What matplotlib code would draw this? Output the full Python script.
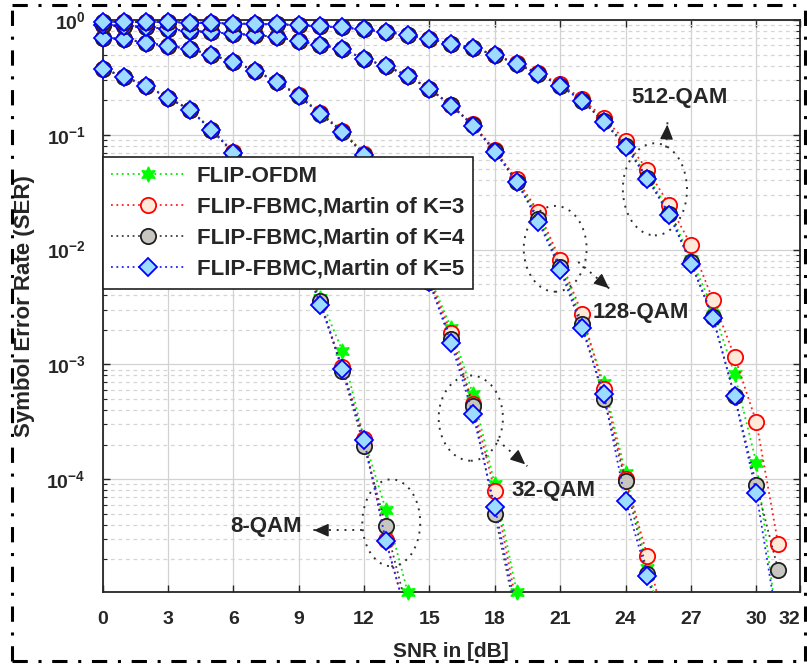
import matplotlib
matplotlib.use('Agg')
import matplotlib.pyplot as plt
import numpy as np
from matplotlib.patches import Ellipse
from matplotlib.lines import Line2D

plt.rcParams['font.family'] = ['Liberation Sans', 'DejaVu Sans']
plt.rcParams['mathtext.fontset'] = 'custom'
plt.rcParams['mathtext.rm'] = 'Liberation Sans:bold'
plt.rcParams['mathtext.it'] = 'Liberation Sans:bold'
plt.rcParams['mathtext.bf'] = 'Liberation Sans:bold'

# ---------------- data ----------------
snr_8 = [0, 1, 2, 3, 4, 5, 6, 7, 8, 9, 10, 11, 12, 13, 14]
ofdm_8 = [0.380, 0.322, 0.270, 0.212, 0.167, 0.112, 0.071, 0.043, 0.023, 0.0105, 3.75e-3, 1.32e-3, 2.25e-4, 5.4e-5, 1.04e-5]
k3_8 = [0.378, 0.320, 0.268, 0.211, 0.166, 0.111, 0.0705, 0.0425, 0.0225, 0.0098, 3.4e-3, 9.5e-4, 2.25e-4, 2.95e-5, 6e-6]
k4_8 = [0.376, 0.320, 0.267, 0.210, 0.166, 0.111, 0.070, 0.042, 0.022, 0.0097, 3.57e-3, 8.8e-4, 1.94e-4, 3.9e-5, 7e-6]
k5_8 = [0.375, 0.319, 0.267, 0.210, 0.165, 0.110, 0.0697, 0.042, 0.022, 0.0095, 3.32e-3, 9.2e-4, 2.18e-4, 2.9e-5, 6e-6]

snr_32 = [0, 1, 2, 3, 4, 5, 6, 7, 8, 9, 10, 11, 12, 13, 14, 15, 16, 17, 18, 19]
ofdm_32 = [0.700, 0.688, 0.635, 0.598, 0.565, 0.500, 0.436, 0.365, 0.293, 0.222, 0.156, 0.109, 0.069, 0.034, 0.0145, 0.0058, 2.06e-3, 5.48e-4, 9.05e-5, 1.04e-5]
k3_32 = [0.699, 0.686, 0.633, 0.596, 0.562, 0.498, 0.433, 0.362, 0.291, 0.220, 0.154, 0.108, 0.068, 0.033, 0.014, 0.0055, 1.86e-3, 4.5e-4, 7.86e-5, 8e-6]
k4_32 = [0.697, 0.684, 0.631, 0.594, 0.560, 0.496, 0.431, 0.360, 0.289, 0.218, 0.152, 0.106, 0.067, 0.032, 0.0135, 0.0052, 1.65e-3, 4.3e-4, 4.96e-5, 6e-6]
k5_32 = [0.697, 0.684, 0.631, 0.594, 0.560, 0.496, 0.431, 0.360, 0.289, 0.218, 0.152, 0.106, 0.067, 0.032, 0.0135, 0.0052, 1.52e-3, 3.67e-4, 5.7e-5, 7e-6]

snr_128 = [0, 1, 2, 3, 4, 5, 6, 7, 8, 9, 10, 11, 12, 13, 14, 15, 16, 17, 18, 19, 20, 21, 22, 23, 24, 25, 26]
ofdm_128 = [0.905, 0.887, 0.869, 0.835, 0.802, 0.786, 0.756, 0.741, 0.711, 0.657, 0.606, 0.560, 0.458, 0.398, 0.326, 0.251, 0.181, 0.122, 0.073, 0.040, 0.0201, 7.55e-3, 2.46e-3, 6.84e-4, 1.13e-4, 1.68e-5, 3e-6]
k3_128 = [0.905, 0.887, 0.869, 0.835, 0.802, 0.786, 0.756, 0.741, 0.711, 0.657, 0.606, 0.560, 0.458, 0.398, 0.326, 0.252, 0.182, 0.123, 0.074, 0.041, 0.0214, 8.18e-3, 2.77e-3, 6.06e-4, 1.0e-4, 2.14e-5, 4e-6]
k4_128 = [0.905, 0.887, 0.869, 0.835, 0.802, 0.786, 0.756, 0.741, 0.711, 0.657, 0.606, 0.560, 0.458, 0.398, 0.326, 0.251, 0.180, 0.121, 0.072, 0.039, 0.0186, 7.11e-3, 2.27e-3, 4.96e-4, 9.61e-5, 1.49e-5, 3e-6]
k5_128 = [0.905, 0.887, 0.869, 0.835, 0.802, 0.786, 0.756, 0.741, 0.711, 0.657, 0.606, 0.560, 0.458, 0.398, 0.326, 0.251, 0.179, 0.120, 0.0711, 0.039, 0.0175, 6.7e-3, 2.06e-3, 5.48e-4, 6.44e-5, 1.43e-5, 3e-6]

snr_512 = [0, 1, 2, 3, 4, 5, 6, 7, 8, 9, 10, 11, 12, 13, 14, 15, 16, 17, 18, 19, 20, 21, 22, 23, 24, 25, 26, 27, 28, 29, 30, 31]
ofdm_512 = [0.970, 0.965, 0.961, 0.958, 0.951, 0.942, 0.932, 0.923, 0.914, 0.905, 0.878, 0.861, 0.827, 0.786, 0.741, 0.684, 0.618, 0.571, 0.496, 0.414, 0.341, 0.270, 0.201, 0.133, 0.082, 0.044, 0.0215, 8.35e-3, 3.07e-3, 8.18e-4, 1.38e-4, 4.6e-6]
k3_512 = [0.970, 0.965, 0.961, 0.958, 0.951, 0.942, 0.932, 0.923, 0.914, 0.905, 0.878, 0.861, 0.827, 0.786, 0.741, 0.684, 0.620, 0.574, 0.500, 0.420, 0.345, 0.275, 0.206, 0.140, 0.0887, 0.0496, 0.0246, 0.0110, 3.67e-3, 1.17e-3, 3.13e-4, 2.72e-5]
k4_512 = [0.970, 0.965, 0.961, 0.958, 0.951, 0.942, 0.932, 0.923, 0.914, 0.905, 0.878, 0.861, 0.827, 0.786, 0.741, 0.684, 0.618, 0.571, 0.496, 0.414, 0.339, 0.267, 0.198, 0.131, 0.080, 0.042, 0.0205, 7.8e-3, 2.6e-3, 5.3e-4, 8.87e-5, 1.62e-5]
k5_512 = [0.970, 0.965, 0.961, 0.958, 0.951, 0.942, 0.932, 0.923, 0.914, 0.905, 0.878, 0.861, 0.827, 0.786, 0.741, 0.684, 0.618, 0.571, 0.496, 0.414, 0.339, 0.267, 0.198, 0.130, 0.0787, 0.0414, 0.0201, 7.55e-3, 2.56e-3, 5.27e-4, 7.55e-5, 5e-6]

series_labels = ['FLIP-OFDM', 'FLIP-FBMC,Martin of K=3',
                 'FLIP-FBMC,Martin of K=4', 'FLIP-FBMC,Martin of K=5']
x_ticks = [0, 3, 6, 9, 12, 15, 18, 21, 24, 27, 30, 32]
y_ticks = [1e-4, 1e-3, 1e-2, 1e-1, 1e0]
y_tick_labels = ['$10^{-4}$', '$10^{-3}$', '$10^{-2}$', '$10^{-1}$', '$10^{0}$']
family_labels = ['8-QAM', '32-QAM', '128-QAM', '512-QAM']

families = [
    (snr_8, [ofdm_8, k3_8, k4_8, k5_8]),
    (snr_32, [ofdm_32, k3_32, k4_32, k5_32]),
    (snr_128, [ofdm_128, k3_128, k4_128, k5_128]),
    (snr_512, [ofdm_512, k3_512, k4_512, k5_512]),
]

# ---------------- styles ----------------
styles = [
    dict(color='#00ee00', marker=(6, 1, 0), ms=11, mfc='#00ff00', mec='#00ff00', mew=1.0),
    dict(color='#ff2020', marker='o', ms=11, mfc='#ffe9d8', mec='#ff0000', mew=1.3),
    dict(color='#404040', marker='o', ms=11, mfc='#c8c6c0', mec='#202020', mew=1.3),
    dict(color='#2020ff', marker='D', ms=9.3, mfc='#9edcff', mec='#0000ff', mew=1.3),
]
dotted = (0, (1, 2))
line_w = 1.3
ymin, ymax = 1.04e-5, 1.0
text_col = '#262626'

fig = plt.figure(figsize=(8.07, 6.68), dpi=100)
ax = fig.add_axes([102.5 / 807, 76 / 668, 697.5 / 807, 572 / 668])
ax.set_yscale('log')
ax.set_xlim(0, 32)
ax.set_ylim(ymin, ymax)

for snr, vals_list in families:
    x = np.array(snr, dtype=float)
    for vals, st in zip(vals_list, styles):
        y = np.array(vals, dtype=float)
        ax.plot(x, y, ls=dotted, lw=line_w, color=st['color'], zorder=3)
        m = y >= ymin * 0.97
        ax.plot(x[m], y[m], ls='none', marker=st['marker'], ms=st['ms'],
                mfc=st['mfc'], mec=st['mec'], mew=st['mew'], zorder=3, clip_on=False)

# grid & ticks
ax.set_xticks(x_ticks)
ax.set_xticklabels([str(t) for t in x_ticks])
ax.set_yticks(y_ticks)
ax.set_yticklabels(y_tick_labels)
ax.grid(True, which='major', color='#d2d2d2', lw=0.9, ls='-', zorder=0)
ax.grid(True, which='minor', axis='y', color='#d5d5d5', lw=0.9, ls=(0, (3, 3)), zorder=0)
ax.set_axisbelow(True)
ax.tick_params(which='both', direction='in', top=True, right=True, colors=text_col)
ax.tick_params(which='major', length=5, width=1.0)
ax.tick_params(which='minor', length=3, width=0.8)
ax.tick_params(axis='x', pad=14, labelsize=14)
ax.tick_params(axis='y', pad=12, labelsize=14)
for lab in ax.get_xticklabels() + ax.get_yticklabels():
    lab.set_fontweight('bold')
ax.get_xticklabels()[-1].set_horizontalalignment('right')
for sp in ax.spines.values():
    sp.set_color(text_col)
    sp.set_linewidth(1.3)

ax.set_xlabel('SNR in [dB]', fontsize=15, fontweight='bold', color=text_col)
ax.xaxis.set_label_coords(0.5, -0.088)
ax.set_ylabel('Symbol Error Rate (SER)', fontsize=16, fontweight='bold', color=text_col)
ax.yaxis.set_label_coords(-0.097, 0.50)

# legend
handles = [Line2D([], [], ls=dotted, lw=line_w, color=st['color'], marker=st['marker'],
                  ms=st['ms'], mfc=st['mfc'], mec=st['mec'], mew=st['mew']) for st in styles]
leg = ax.legend(handles, series_labels, loc='upper left', bbox_to_anchor=(0, 0.7605),
                borderaxespad=0, frameon=True, fancybox=False, framealpha=1,
                edgecolor='#202020', prop=dict(family=['Liberation Sans', 'DejaVu Sans'], weight='bold', size=16),
                handlelength=3.3, handletextpad=0.55, labelspacing=0.45, borderpad=0.4, numpoints=1)
leg.get_frame().set_linewidth(1.2)
leg.set_zorder(5)
for t in leg.get_texts():
    t.set_color(text_col)

# annotations (axes-fraction positions)
ell_spec = [((0.414, 0.121), 0.083, 0.152),
            ((0.528, 0.304), 0.092, 0.149),
            ((0.649, 0.600), 0.090, 0.150),
            ((0.792, 0.704), 0.092, 0.161)]
arrow_spec = [((0.372, 0.108), (0.299, 0.108)),
              ((0.566, 0.266), (0.609, 0.220)),
              ((0.682, 0.577), (0.729, 0.528)),
              ((0.808, 0.777), (0.810, 0.822))]
text_pos = [(0.234, 0.114), (0.646, 0.178), (0.772, 0.488), (0.827, 0.864)]

for (c, w, h), (p0, p1), tp, lab in zip(ell_spec, arrow_spec, text_pos, family_labels):
    ax.add_patch(Ellipse(c, w, h, transform=ax.transAxes, fill=False,
                         ls=(0, (1, 3)), lw=1.4, ec='#303030', zorder=6))
    ax.plot([p0[0], p1[0]], [p0[1], p1[1]], transform=ax.transAxes, ls=(0, (1, 3)),
            lw=1.4, color='#303030', zorder=6)
    d = np.array(p1) - np.array(p0)
    d = d / np.hypot(*d)
    ax.annotate('', xy=p1, xytext=(p1[0] - 0.016 * d[0], p1[1] - 0.016 * d[1]),
                xycoords='axes fraction', textcoords='axes fraction',
                arrowprops=dict(arrowstyle='-|>,head_length=0.9,head_width=0.4',
                                color='#202020', lw=1.0), zorder=6)
    ax.text(tp[0], tp[1], lab, transform=ax.transAxes, ha='center', va='center',
            fontsize=16, fontweight='bold', color=text_col, zorder=6)

# figure dash-dot border
bx0, bx1 = 12 / 807, 805 / 807
by0, by1 = 1 - 661 / 668, 1 - 5 / 668
border_ls = (0, (5, 3.5, 1, 3.5))
for xs, ys in [([bx0, bx1], [by1, by1]), ([bx0, bx1], [by0, by0]),
               ([bx0, bx0], [by0, by1]), ([bx1, bx1], [by0, by1])]:
    fig.add_artist(Line2D(xs, ys, transform=fig.transFigure, ls=border_ls, lw=2.2, color='black'))

fig.savefig('out.png', dpi=100)
